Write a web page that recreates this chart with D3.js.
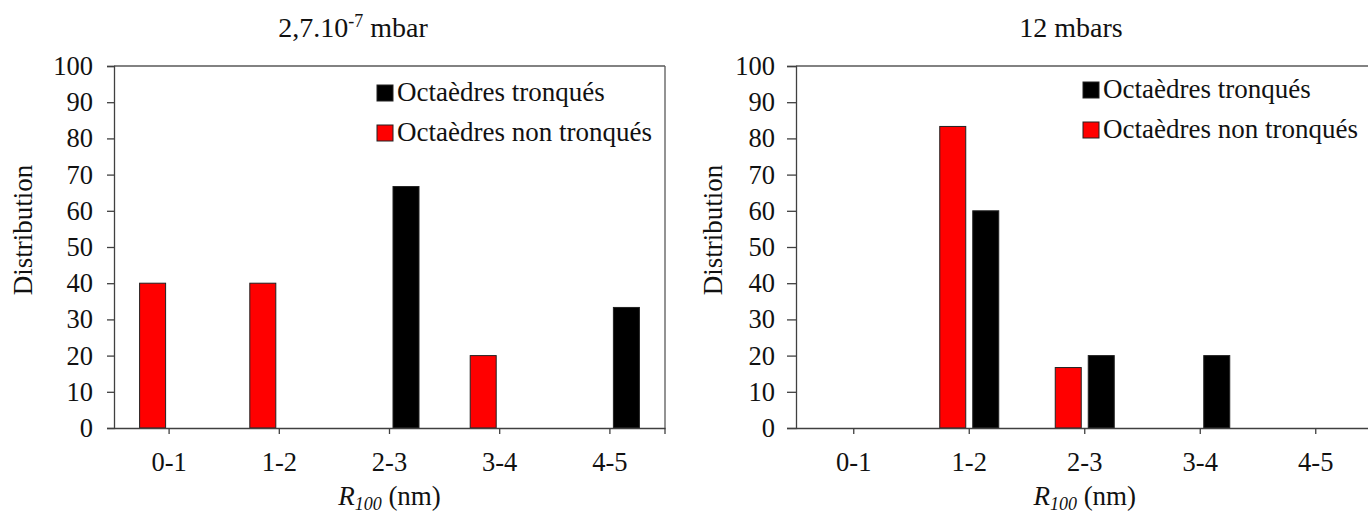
<!DOCTYPE html>
<html>
<head>
<meta charset="utf-8">
<script src="https://cdn.jsdelivr.net/npm/d3@7"></script>
<style>
  html, body { margin: 0; padding: 0; background: #fff; }
  svg { display: block; }
  svg text { font-family: "Liberation Serif", "Tinos", "Times New Roman", Times, "DejaVu Serif", "Noto Serif", serif !important; fill: #111; }
</style>
</head>
<body>
<svg id="chart" width="1368" height="513"></svg>
<script>
// ---- data ----
const categories = ["0-1", "1-2", "2-3", "3-4", "4-5"];
const seriesNames = ["Octaèdres tronqués", "Octaèdres non tronqués"];
const seriesColors = ["#000000", "#ff0000"];
const leftTronques = [0, 0, 66.7, 0, 33.3];
const leftNonTronques = [40, 40, 0, 20, 0];
const rightTronques = [0, 60, 20, 20, 0];
const rightNonTronques = [0, 83.3, 16.7, 0, 0];
const yTicks = [0, 10, 20, 30, 40, 50, 60, 70, 80, 90, 100];
const yLabel = "Distribution";
const leftTitle = { base: "2,7.10", sup: "-7", tail: " mbar" };
const rightTitle = { base: "12 mbars", sup: "", tail: "" };

const svg = d3.select("#chart");

function drawPanel(opt) {
  const { x0, x1, yTop, yBot, nonTronques, tronques, title, titleX, labelX, legendX, legendY, tickLen, frameRight } = opt;
  const g = svg.append("g");
  const y = d3.scaleLinear().domain([0, 100]).range([yBot, yTop]);
  const x = d3.scaleBand().domain(categories).range([x0, x1]).padding(0);
  const inner = d3.scaleBand().domain(["non", "tron"]).range([-29.5, 29.5]).paddingInner(0.212).paddingOuter(0);

  // frame (top & right)
  g.append("line").attr("x1", x0).attr("x2", x1).attr("y1", yTop).attr("y2", yTop)
    .attr("stroke", "#595959").attr("stroke-width", 1.3);
  if (frameRight) {
    g.append("line").attr("x1", x1).attr("x2", x1).attr("y1", yTop).attr("y2", yBot)
      .attr("stroke", "#595959").attr("stroke-width", 1.3);
  }

  // bars
  const rows = categories.map((c, i) => ({ c, non: nonTronques[i], tron: tronques[i] }));
  ["non", "tron"].forEach((key) => {
    g.selectAll(null).data(rows.filter(d => d[key] > 0)).enter().append("rect")
      .attr("x", d => x(d.c) + x.bandwidth() / 2 + inner(key))
      .attr("width", inner.bandwidth())
      .attr("y", d => y(d[key]))
      .attr("height", d => y(0) - y(d[key]))
      .attr("fill", key === "tron" ? seriesColors[0] : seriesColors[1])
      .attr("stroke", "#222").attr("stroke-width", 1);
  });

  // y axis
  const ya = d3.axisLeft(y).tickValues(yTicks).tickSize(tickLen).tickPadding(20 - tickLen + 1).tickFormat(d3.format("d"));
  const yg = g.append("g").attr("transform", `translate(${x0},0)`).call(ya).attr("font-family", null);
  yg.select(".domain").attr("stroke", "#404040").attr("stroke-width", 1.3);
  yg.selectAll(".tick line").attr("stroke", "#404040").attr("stroke-width", 1.3);
  yg.selectAll(".tick text").style("font-size", "26.5px").attr("fill", "#111");

  // x axis
  const xa = d3.axisBottom(x).tickSize(6).tickPadding(18).tickSizeOuter(0);
  const xg = g.append("g").attr("transform", `translate(0,${yBot})`).call(xa).attr("font-family", null);
  xg.select(".domain").attr("stroke", "#404040").attr("stroke-width", 1.3);
  xg.selectAll(".tick line").attr("stroke", "#404040").attr("stroke-width", 1.3);
  xg.selectAll(".tick text").style("font-size", "26.5px").attr("fill", "#111").attr("dy", "0.71em");
  // end tick at right edge
  xg.append("line").attr("x1", x1).attr("x2", x1).attr("y1", 0).attr("y2", 6)
    .attr("stroke", "#404040").attr("stroke-width", 1.3);

  // x axis title
  const xt = g.append("text").attr("x", (x0 + x1) / 2).attr("y", 505)
    .attr("text-anchor", "middle").style("font-size", "27px");
  xt.append("tspan").text("R").style("font-style", "italic");
  xt.append("tspan").text("100").style("font-style", "italic").style("font-size", "18px").attr("dy", 5);
  xt.append("tspan").text(" (nm)").attr("dy", -5);

  // y axis title
  g.append("text").attr("transform", `translate(${labelX},230) rotate(-90)`)
    .attr("text-anchor", "middle").attr("dy", "0.35em").style("font-size", "27px").text(yLabel);

  // title
  const tt = g.append("text").attr("x", titleX).attr("y", 37).attr("text-anchor", "middle").style("font-size", "28px");
  tt.append("tspan").text(title.base);
  if (title.sup) {
    tt.append("tspan").text(title.sup).style("font-size", "18px").attr("dy", -10);
    tt.append("tspan").text(title.tail).attr("dy", 10);
  }

  // legend
  seriesNames.forEach((name, i) => {
    const by = legendY + i * 40;
    g.append("rect").attr("x", legendX).attr("y", by - 16).attr("width", 16).attr("height", 16)
      .attr("fill", seriesColors[i]).attr("stroke", "#222").attr("stroke-width", 1);
    g.append("text").attr("x", legendX + 20).attr("y", by).style("font-size", "27px").text(name);
  });
}

drawPanel({
  x0: 114, x1: 665, yTop: 66, yBot: 428,
  nonTronques: leftNonTronques, tronques: leftTronques,
  title: leftTitle, titleX: 353, labelX: 23, legendX: 377, legendY: 101,
  tickLen: 7, frameRight: true
});
drawPanel({
  x0: 796, x1: 1373.5, yTop: 66, yBot: 428,
  nonTronques: rightNonTronques, tronques: rightTronques,
  title: rightTitle, titleX: 1071, labelX: 713, legendX: 1083, legendY: 98,
  tickLen: 9, frameRight: true
});
</script>
</body>
</html>
